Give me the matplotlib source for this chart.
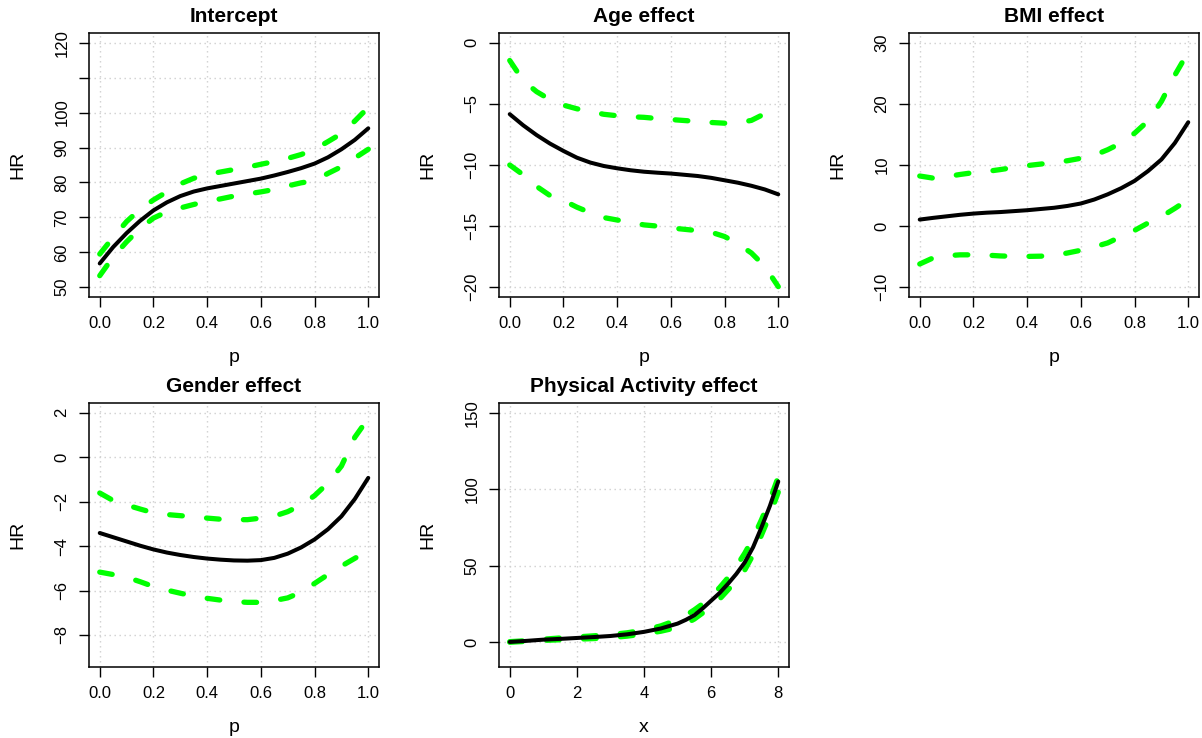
import numpy as np
import matplotlib
matplotlib.use("Agg")
import matplotlib.pyplot as plt

plt.rcParams['font.family'] = ['Liberation Sans', 'DejaVu Sans']

# quantile grid shared by the first four panels
p = [0.0, 0.05, 0.1, 0.15, 0.2, 0.25, 0.3, 0.35, 0.4, 0.45, 0.5,
     0.55, 0.6, 0.65, 0.7, 0.75, 0.8, 0.85, 0.9, 0.95, 1.0]

int_est = [56.8, 61.5, 65.5, 69.0, 72.0, 74.3, 76.1, 77.4, 78.3, 79.0, 79.7,
           80.4, 81.1, 82.0, 83.0, 84.1, 85.4, 87.2, 89.5, 92.2, 95.5]
int_up = [59.5, 64.3, 68.8, 72.3, 75.0, 77.3, 79.6, 81.2, 82.3, 83.0, 83.7,
          84.4, 85.2, 86.0, 86.9, 88.0, 89.5, 91.7, 94.0, 97.6, 101.5]
int_lo = [53.3, 58.7, 63.0, 66.8, 69.8, 71.6, 72.7, 73.7, 74.6, 75.3, 76.1,
          76.7, 77.3, 78.0, 79.0, 79.9, 80.5, 82.6, 84.5, 87.0, 89.5]

age_est = [-5.84, -6.75, -7.55, -8.25, -8.85, -9.4, -9.8, -10.08, -10.27, -10.43, -10.55,
           -10.63, -10.7, -10.8, -10.9, -11.05, -11.25, -11.45, -11.7, -12.0, -12.4]
age_up = [-1.45, -3.1, -4.0, -4.65, -5.1, -5.4, -5.62, -5.85, -5.97, -6.05, -6.1,
          -6.2, -6.28, -6.36, -6.44, -6.52, -6.58, -6.55, -6.35, -5.8, -5.3]
age_lo = [-10.0, -10.8, -11.75, -12.5, -12.9, -13.45, -13.9, -14.3, -14.5, -14.7, -14.9,
          -15.0, -15.15, -15.26, -15.37, -15.5, -15.85, -16.45, -17.2, -18.3, -19.95]

bmi_est = [1.07, 1.35, 1.6, 1.85, 2.05, 2.2, 2.3, 2.45, 2.6, 2.8, 3.0,
           3.3, 3.7, 4.35, 5.2, 6.2, 7.4, 9.0, 10.9, 13.6, 17.0]
bmi_up = [8.2, 7.85, 8.1, 8.45, 8.75, 8.95, 9.25, 9.6, 9.9, 10.15, 10.4,
          10.7, 11.1, 11.6, 12.5, 13.6, 15.2, 17.2, 20.4, 24.7, 28.5]
bmi_lo = [-6.2, -5.2, -4.85, -4.7, -4.7, -4.75, -4.88, -4.95, -4.96, -4.92, -4.8,
          -4.4, -3.95, -3.4, -2.75, -1.7, -0.7, 0.5, 1.55, 2.9, 4.35]

sex_est = [-3.41, -3.6, -3.79, -3.98, -4.15, -4.29, -4.4, -4.49, -4.56, -4.61, -4.645,
           -4.655, -4.63, -4.53, -4.34, -4.06, -3.7, -3.24, -2.66, -1.88, -0.93]
sex_up = [-1.61, -1.95, -2.15, -2.33, -2.5, -2.58, -2.63, -2.68, -2.74, -2.79, -2.81,
          -2.81, -2.74, -2.65, -2.45, -2.15, -1.73, -1.16, -0.4, 0.9, 1.75]
sex_lo = [-5.17, -5.28, -5.4, -5.6, -5.82, -5.98, -6.12, -6.25, -6.35, -6.43, -6.5,
          -6.53, -6.53, -6.45, -6.33, -6.07, -5.68, -5.28, -4.9, -4.55, -4.2]

# physical activity curve is on its own x scale
pa_x = [0, 0.5, 1, 1.5, 2, 2.5, 3, 3.5, 4, 4.5, 5, 5.25, 5.5, 5.75, 6,
        6.25, 6.5, 6.75, 7, 7.25, 7.5, 7.75, 8]
pa_est = [0, 0.7, 1.5, 2.0, 2.6, 3.2, 3.9, 5.0, 6.6, 8.8, 12, 14.5, 17.5, 22, 27,
          32, 38, 44.5, 52, 62, 75, 89, 105]
pa_up = [0.2, 0.8, 1.8, 2.6, 3.3, 4.0, 4.8, 6.0, 7.8, 10.5, 14.5, 17.5, 21, 25, 30,
         35.5, 42, 49.5, 58, 68, 80, 93, 108]
pa_lo = [-0.2, 0.4, 1.0, 1.4, 1.8, 2.2, 2.8, 3.8, 5.2, 7.0, 9.5, 12, 15, 19, 23,
         28, 34, 40, 47, 57, 70, 83, 98]

p_ticks = [0.0, 0.2, 0.4, 0.6, 0.8, 1.0]
p_labels = ['0.0', '0.2', '0.4', '0.6', '0.8', '1.0']

W, H = 1202, 738
fig = plt.figure(figsize=(W / 100, H / 100), dpi=100)
fig.patch.set_facecolor('white')

GREEN = '#00FF00'


def pad(lo, hi):
    d = (hi - lo) * 0.04
    return lo - d, hi + d


def panel(left, top, title, x, est, up, lo, xlim, ylim, xticks, xlabels,
          yticks, ylabels, xlab):
    ax = fig.add_axes([left / W, 1 - (top + 264) / H, 290 / W, 264 / H])
    ax.set_xlim(*pad(*xlim))
    ax.set_ylim(*pad(*ylim))
    ax.set_xticks(xticks)
    ax.set_xticklabels(xlabels)
    ax.set_yticks(yticks)
    ax.set_yticklabels(ylabels, rotation=90, va='center')
    for t in xticks:
        ax.axvline(t, color='#CFCFCF', lw=1, ls=(0, (1, 2.6)), zorder=0)
    for t in yticks:
        ax.axhline(t, color='#CFCFCF', lw=1, ls=(0, (1, 2.6)), zorder=0)
    for band in (up, lo):
        ax.plot(x, band, color=GREEN, lw=3.8, ls=(0, (2.4, 4.6)),
                dash_capstyle='round', zorder=2)
    ax.plot(x, est, color='black', lw=2.9, solid_capstyle='round',
            solid_joinstyle='round', zorder=3)
    ax.tick_params(direction='out', length=7, width=1, labelsize=12, pad=7,
                   colors='black')
    for s in ax.spines.values():
        s.set_linewidth(1.1)
    ax.text(0.5, 1 + 16 / 264, title, transform=ax.transAxes, ha='center',
            va='center', fontsize=15, fontweight='bold')
    ax.text(0.5, -61 / 264, xlab, transform=ax.transAxes, ha='center',
            va='center', fontsize=14)
    ax.text(-71 / 290, 0.5, 'HR', transform=ax.transAxes, ha='center',
            va='center', rotation=90, fontsize=14)
    return ax


panel(89, 33, 'Intercept', p, int_est, int_up, int_lo, (0, 1), (50, 120),
      p_ticks, p_labels, [50, 60, 70, 80, 90, 100, 110, 120],
      ['50', '60', '70', '80', '90', '100', '', '120'], 'p')
panel(499, 33, 'Age effect', p, age_est, age_up, age_lo, (0, 1), (-20, 0),
      p_ticks, p_labels, [-20, -15, -10, -5, 0],
      ['\u221220', '\u221215', '\u221210', '\u22125', '0'], 'p')
panel(909, 33, 'BMI effect', p, bmi_est, bmi_up, bmi_lo, (0, 1), (-10, 30),
      p_ticks, p_labels, [-10, 0, 10, 20, 30],
      ['\u221210', '0', '10', '20', '30'], 'p')
panel(89, 403, 'Gender effect', p, sex_est, sex_up, sex_lo, (0, 1), (-9, 2),
      p_ticks, p_labels, [-8, -6, -4, -2, 0, 2],
      ['\u22128', '\u22126', '\u22124', '\u22122', '0', '2'], 'p')
panel(499, 403, 'Physical Activity effect', pa_x, pa_est, pa_up, pa_lo,
      (0, 8), (-10, 150), [0, 2, 4, 6, 8], ['0', '2', '4', '6', '8'],
      [0, 50, 100, 150], ['0', '50', '100', '150'], 'x')

fig.savefig('out.png', dpi=100, facecolor='white')
